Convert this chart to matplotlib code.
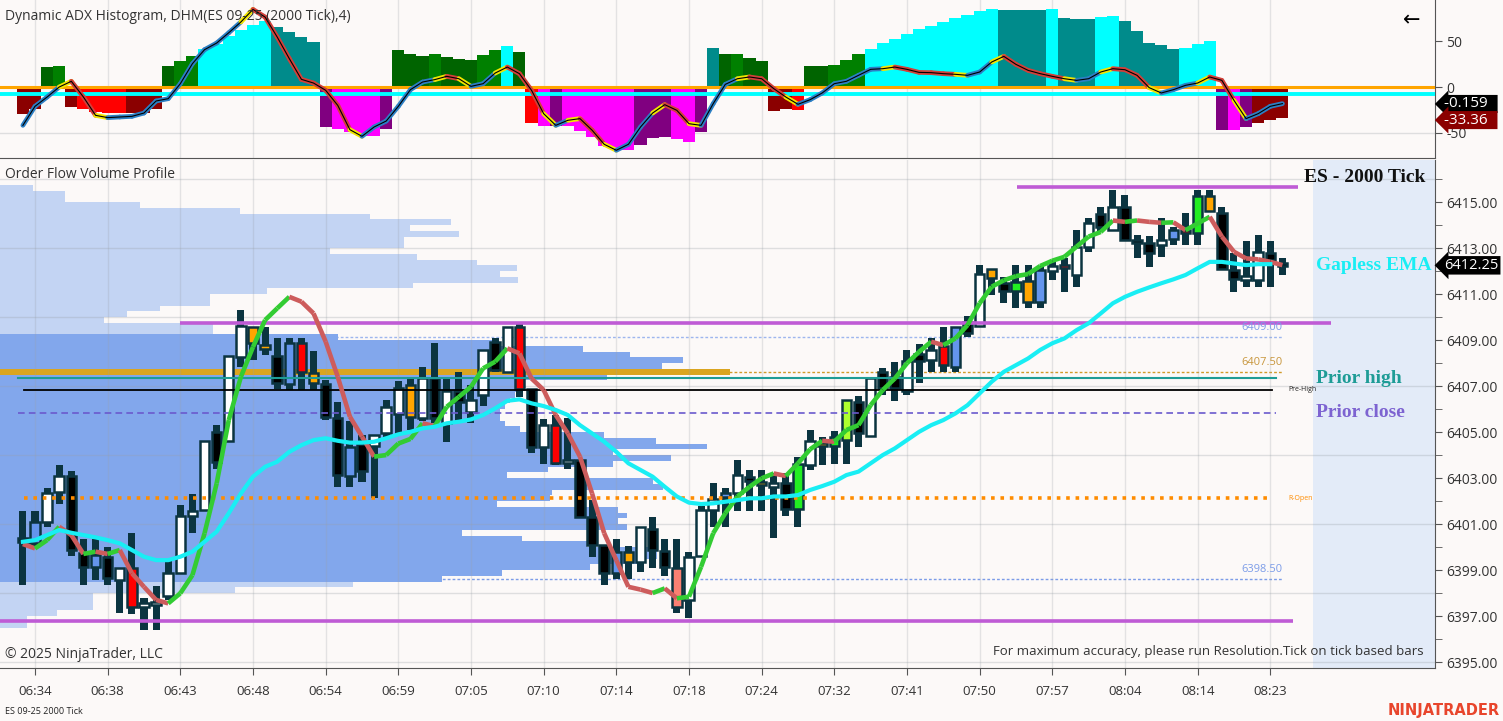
import matplotlib
matplotlib.use('Agg')
import matplotlib.pyplot as plt
import numpy as np
from matplotlib.patches import Rectangle
from matplotlib.collections import LineCollection

plt.rcParams['font.family'] = ['Open Sans', 'DejaVu Sans']

# ---------------- data ----------------
time_labels = ['06:34', '06:38', '06:43', '06:48', '06:54', '06:59', '07:05', '07:10', '07:14',
               '07:18', '07:24', '07:32', '07:41', '07:50', '07:57', '08:04', '08:14', '08:23']
label_bars = [1, 7, 13, 19, 25, 31, 37, 43, 49, 55, 61, 67, 73, 79, 85, 91, 97, 103]

opens = [6400.40, 6400.17, 6401.10, 6402.40, 6403.09, 6399.74, 6399.15, 6399.58, 6398.57, 6399.07,
         6397.38, 6397.50, 6397.87, 6398.86, 6401.35, 6401.60, 6405.00, 6404.60, 6408.27, 6409.58,
         6408.80, 6408.30, 6407.10, 6408.86, 6407.55, 6407.09, 6405.60, 6404.37, 6404.50, 6404.40,
         6404.94, 6405.80, 6407.04, 6405.60, 6407.33, 6405.40, 6406.80, 6405.88, 6406.60, 6408.90,
         6407.60, 6409.58, 6406.86, 6404.37, 6405.30, 6403.64, 6403.80, 6401.30, 6400.09, 6398.86,
         6399.80, 6399.36, 6400.80, 6399.84, 6399.07, 6397.70, 6399.60, 6401.60, 6402.16, 6402.33,
         6403.06, 6402.80, 6402.60, 6402.80, 6401.64, 6403.57, 6404.50, 6404.40, 6404.65, 6406.30,
         6404.83, 6407.60, 6407.40, 6406.80, 6408.40, 6408.13, 6408.74, 6407.84, 6409.80, 6409.60,
         6412.07, 6411.47, 6411.14, 6411.56, 6410.67, 6412.00, 6412.26, 6411.83, 6413.06, 6414.50,
         6413.80, 6414.80, 6413.35, 6413.20, 6413.13, 6413.39, 6413.78, 6413.64, 6415.26, 6414.53,
         6412.04, 6411.60, 6411.60, 6412.77, 6412.30]
highs = [6401.57, 6401.57, 6402.55, 6403.57, 6403.30, 6400.33, 6400.33, 6400.00, 6399.07, 6400.60,
         6397.80, 6398.30, 6399.50, 6401.83, 6402.30, 6404.60, 6405.30, 6408.30, 6410.30, 6409.58,
         6409.58, 6409.07, 6409.07, 6409.07, 6408.53, 6407.26, 6406.30, 6405.50, 6404.87, 6404.87,
         6406.40, 6407.20, 6407.33, 6407.84, 6408.86, 6407.33, 6407.60, 6407.04, 6408.57, 6409.07,
         6409.58, 6409.80, 6406.86, 6405.55, 6405.74, 6405.60, 6403.80, 6402.04, 6400.09, 6400.33,
         6400.04, 6400.88, 6401.30, 6400.33, 6400.33, 6399.80, 6401.78, 6402.80, 6402.55, 6403.80,
         6403.35, 6403.35, 6403.20, 6403.20, 6403.90, 6405.10, 6404.80, 6405.05, 6406.40, 6406.56,
         6407.33, 6407.80, 6408.05, 6408.57, 6408.83, 6409.07, 6409.58, 6409.58, 6410.06, 6412.26,
         6412.07, 6411.75, 6412.26, 6412.26, 6412.20, 6412.48, 6412.55, 6413.78, 6414.30, 6414.80,
         6415.52, 6415.30, 6413.57, 6413.52, 6414.29, 6413.93, 6414.53, 6415.52, 6415.52, 6414.80,
         6412.77, 6413.32, 6413.55, 6413.32, 6412.55]
lows = [6398.35, 6399.96, 6400.86, 6401.87, 6399.60, 6398.35, 6398.57, 6398.35, 6397.13, 6397.10,
        6396.40, 6396.40, 6397.70, 6398.86, 6400.60, 6401.60, 6403.40, 6404.60, 6407.84, 6408.13,
        6408.35, 6406.86, 6406.83, 6406.83, 6406.83, 6405.52, 6402.60, 6402.60, 6402.84, 6402.13,
        6404.80, 6404.90, 6405.10, 6405.50, 6405.38, 6404.58, 6405.38, 6405.40, 6406.13, 6407.60,
        6407.60, 6406.53, 6404.07, 6403.60, 6403.57, 6403.40, 6401.30, 6399.58, 6398.35, 6398.60,
        6398.60, 6398.93, 6399.07, 6398.74, 6397.12, 6396.90, 6399.60, 6400.86, 6400.88, 6401.57,
        6401.57, 6401.57, 6400.40, 6401.35, 6400.87, 6403.35, 6403.57, 6403.60, 6403.60, 6404.35,
        6404.83, 6406.60, 6406.35, 6406.60, 6407.12, 6407.62, 6407.62, 6407.62, 6409.14, 6409.60,
        6410.96, 6410.62, 6410.38, 6410.38, 6410.38, 6411.60, 6411.10, 6411.30, 6412.84, 6413.70,
        6413.80, 6413.35, 6412.55, 6412.19, 6412.60, 6413.13, 6413.13, 6413.13, 6414.58, 6412.10,
        6411.10, 6411.32, 6411.32, 6411.32, 6411.83]
closes = [6400.20, 6401.10, 6402.33, 6403.09, 6399.87, 6399.15, 6399.65, 6398.64, 6399.07, 6397.40,
          6397.58, 6397.60, 6398.88, 6401.35, 6401.57, 6404.60, 6403.70, 6408.30, 6409.60, 6408.88,
          6408.60, 6407.14, 6408.86, 6407.62, 6407.14, 6405.67, 6403.13, 6403.09, 6403.30, 6404.87,
          6406.10, 6406.90, 6405.67, 6407.33, 6405.60, 6406.80, 6406.30, 6406.40, 6408.57, 6407.70,
          6409.58, 6406.86, 6404.37, 6405.30, 6403.64, 6403.80, 6401.30, 6400.09, 6398.86, 6399.80,
          6399.36, 6400.88, 6399.87, 6399.14, 6397.40, 6399.58, 6401.60, 6402.07, 6402.37, 6403.13,
          6402.87, 6402.70, 6402.80, 6401.64, 6403.60, 6404.62, 6404.40, 6404.80, 6406.40, 6404.94,
          6407.33, 6406.90, 6406.90, 6408.10, 6408.10, 6408.57, 6407.90, 6409.58, 6409.30, 6411.87,
          6411.68, 6411.14, 6411.53, 6410.67, 6412.04, 6412.20, 6412.16, 6413.06, 6414.07, 6413.90,
          6414.80, 6413.35, 6413.23, 6412.80, 6413.35, 6413.78, 6413.64, 6415.26, 6414.62, 6412.10,
          6411.64, 6411.78, 6412.84, 6412.48, 6412.25]
# bar classification shown by the body fill
bar_kind = ['k', 'b', 'w', 'w', 'k', 'k', 'b', 'k', 'w', 'r',
            'w', 'w', 'w', 'w', 'w', 'w', 'k', 'w', 'w', 'o',
            'o', 'k', 'b', 'r', 'o', 'k', 'k', 'b', 'k', 'w',
            'w', 'w', 'o', 'w', 'k', 'w', 'k', 'w', 'w', 'k',
            'w', 'r', 'k', 'w', 'r', 'w', 'k', 'k', 'k', 'b',
            'o', 'w', 'k', 'k', 's', 'w', 'w', 'w', 'b', 'w',
            'k', 'o', 'w', 'k', 'g', 'w', 'o', 'g', 'y', 'k',
            'w', 'k', 'k', 'w', 'k', 'w', 'r', 'b', 'k', 'w',
            'o', 'k', 'g', 'o', 'b', 'w', 'r', 'w', 'w', 'k',
            'w', 'k', 'k', 'k', 'w', 'b', 'r', 'g', 'o', 'k',
            'k', 'w', 'w', 'k', 'k']

fast_ema = [6400.13, 6399.94, 6400.30, 6400.88, 6400.52, 6399.70, 6399.80, 6399.70, 6399.87, 6398.86,
            6398.27, 6397.70, 6397.55, 6397.99, 6398.78, 6400.60, 6402.77, 6405.52, 6407.40, 6408.70,
            6409.87, 6410.38, 6410.88, 6410.67, 6410.16, 6408.93, 6407.40, 6405.67, 6404.80, 6403.93,
            6404.00, 6404.50, 6404.70, 6405.38, 6405.26, 6406.10, 6406.53, 6406.97, 6407.77, 6408.06,
            6408.64, 6408.42, 6407.33, 6406.83, 6405.74, 6404.94, 6403.93, 6402.33, 6400.60, 6399.43,
            6398.27, 6398.15, 6398.00, 6398.20, 6397.77, 6397.84, 6399.14, 6400.60, 6401.47, 6402.20,
            6402.62, 6402.99, 6403.20, 6403.09, 6403.64, 6404.25, 6404.62, 6404.58, 6405.09, 6405.30,
            6406.17, 6406.83, 6407.33, 6407.99, 6408.49, 6408.93, 6408.78, 6409.07, 6409.65, 6410.60,
            6411.32, 6411.60, 6411.78, 6411.87, 6412.22, 6412.45, 6412.62, 6413.06, 6413.50, 6413.70,
            6414.20, 6414.14, 6414.20, 6414.14, 6414.10, 6414.12, 6413.78, 6414.07, 6414.36, 6413.50,
            6412.84, 6412.55, 6412.51, 6412.40, 6412.26]
gapless_ema = [6400.23, 6400.30, 6400.52, 6400.74, 6400.62, 6400.52, 6400.42, 6400.30, 6400.16, 6399.87,
               6399.58, 6399.43, 6399.43, 6399.58, 6399.80, 6400.23, 6400.67, 6401.47, 6402.33, 6403.06,
               6403.49, 6403.71, 6404.14, 6404.43, 6404.65, 6404.73, 6404.62, 6404.54, 6404.54, 6404.58,
               6404.73, 6404.90, 6405.01, 6405.16, 6405.23, 6405.38, 6405.45, 6405.55, 6405.74, 6406.03,
               6406.36, 6406.42, 6406.25, 6406.13, 6405.96, 6405.74, 6405.30, 6404.94, 6404.58, 6404.14,
               6403.64, 6403.35, 6403.06, 6402.62, 6402.20, 6401.93, 6401.87, 6401.90, 6401.97, 6402.04,
               6402.12, 6402.12, 6402.20, 6402.20, 6402.26, 6402.48, 6402.65, 6402.84, 6403.13, 6403.28,
               6403.64, 6404.00, 6404.29, 6404.65, 6405.01, 6405.30, 6405.52, 6405.81, 6406.17, 6406.68,
               6407.19, 6407.62, 6407.91, 6408.20, 6408.57, 6408.86, 6409.07, 6409.43, 6409.73, 6410.16,
               6410.60, 6410.88, 6411.10, 6411.29, 6411.47, 6411.64, 6411.83, 6412.12, 6412.40, 6412.40,
               6412.33, 6412.26, 6412.30, 6412.30]

adx_hist = [-28.9, -24.0, 21.7, 22.8, -21.7, -24.0, -27.5, -28.3, -28.3, -28.3,
            -28.0, -24.0, 22.8, 28.0, 33.4, 41.0, 47.0, 55.5, 61.6, 67.0,
            71.8, 65.0, 59.5, 54.0, 49.0, -43.5, -46.0, -49.0, -53.0, -53.0,
            -46.0, 40.0, 35.5, 33.7, 36.0, 32.6, 30.8, 29.0, 34.4, 40.6,
            44.6, 37.7, -39.0, -42.0, -42.0, -42.8, -47.8, -54.3, -64.0, -68.8,
            -68.8, -63.0, -55.8, -54.3, -56.5, -59.4, -48.9, 42.0, 36.0, 36.0,
            32.0, 28.3, -26.0, -24.0, -24.5, 22.8, 22.8, 24.0, 29.0, 35.5,
            41.0, 48.0, 52.6, 58.0, 62.7, 66.7, 70.7, 74.7, 78.0, 82.6,
            84.5, 84.0, 84.0, 84.0, 84.0, 84.7, 75.4, 74.3, 73.6, 76.0,
            77.0, 71.7, 60.5, 48.2, 45.3, 41.0, 42.4, 47.0, 49.7, -46.3,
            -46.3, -43.5, -38.7, -36.2, -33.36]
adx_state = ['dr', 'dr', 'dg', 'g', 'dr', 'r', 'r', 'r', 'r', 'dr',
             'dr', 'dr', 'dg', 'g', 'g', 'c', 'c', 'c', 'c', 'c',
             'c', 't', 't', 't', 't', 'p', 'm', 'm', 'm', 'm',
             'p', 'dg', 'dg', 'dg', 'g', 'dg', 'dg', 'dg', 'g', 'g',
             'c', 'dg', 'r', 'm', 'p', 'm', 'm', 'm', 'm', 'm',
             'm', 'p', 'p', 'p', 'm', 'm', 'p', 't', 'dg', 'g',
             'dg', 'dg', 'dr', 'dr', 'r', 'dg', 'dg', 'g', 'g', 'g',
             'c', 'c', 'c', 'c', 'c', 'c', 'c', 'c', 'c', 'c',
             'c', 't', 't', 't', 't', 'c', 't', 't', 't', 'c',
             'c', 't', 't', 't', 't', 't', 'c', 'c', 'c', 'p',
             'm', 'p', 'dr', 'dr', 'dr']
adx_line = [-41.7, -21.0, -10.9, 0.0, 6.2, -10.9, -30.8, -33.3, -32.6, -31.9,
            -28.3, -15.2, -12.7, 3.6, 25.4, 40.6, 47.8, 59.0, 70.7, 84.4,
            76.0, 54.3, 30.8, 8.3, 4.3, -3.6, -20.0, -46.4, -53.6, -43.5,
            -37.0, -21.0, -2.9, 5.4, 8.0, 11.6, 9.0, 0.7, 3.6, 15.2,
            21.7, 14.5, -3.6, -29.0, -41.7, -36.2, -34.4, -47.0, -62.3, -68.8,
            -62.3, -43.5, -28.3, -19.2, -25.4, -39.9, -41.7, -18.1, 2.9, 9.0,
            10.9, 9.0, -1.8, -10.9, -18.8, -13.8, -6.5, 3.6, 6.2, 12.7,
            19.2, 19.9, 21.7, 19.2, 15.9, 15.6, 14.5, 13.8, 12.7, 16.3,
            27.2, 33.3, 24.6, 18.1, 14.5, 11.6, 9.0, 7.2, 9.0, 16.3,
            19.9, 18.8, 12.7, -0.7, -6.5, -2.9, 1.8, 4.3, 10.9, 7.2,
            -14.5, -34.4, -29.0, -21.0, -18.1]
adx_level = -7.5
adx_tags = ['-0.159', '-33.36']

# volume profile: price of each 1-tick row and its volume
profile_price = [6415.50, 6415.25, 6415.00, 6414.75, 6414.50, 6414.25, 6414.00, 6413.75, 6413.50, 6413.25,
                 6413.00, 6412.75, 6412.50, 6412.25, 6412.00, 6411.75, 6411.50, 6411.25, 6411.00, 6410.75,
                 6410.50, 6410.25, 6410.00, 6409.75, 6409.50, 6409.25, 6409.00, 6408.75, 6408.50, 6408.25,
                 6408.00, 6407.75, 6407.50, 6407.25, 6407.00, 6406.75, 6406.50, 6406.25, 6406.00, 6405.75,
                 6405.50, 6405.25, 6405.00, 6404.75, 6404.50, 6404.25, 6404.00, 6403.75, 6403.50, 6403.25,
                 6403.00, 6402.75, 6402.50, 6402.25, 6402.00, 6401.75, 6401.50, 6401.25, 6401.00, 6400.75,
                 6400.50, 6400.25, 6400.00, 6399.75, 6399.50, 6399.25, 6399.00, 6398.75, 6398.50, 6398.25,
                 6398.00, 6397.75, 6397.50, 6397.25, 6397.00, 6396.75, 6396.50]
profile_vol = [33, 65, 65, 140, 240, 370, 451, 410, 459, 404,
               404, 330, 417, 477, 517, 500, 518, 413, 267, 210,
               210, 160, 127, 104, 213, 213, 338, 493, 583, 630,
               683, 662, 730, 607, 520, 520, 515, 510, 505, 500,
               500, 505, 520, 604, 656, 707, 613, 671, 613, 548,
               507, 653, 663, 552, 550, 497, 618, 627, 618, 627,
               462, 522, 587, 657, 657, 640, 590, 502, 442, 353,
               235, 93, 93, 93, 57, 27, 27]
poc_price = 6407.50
vah_price = 6409.00
val_price = 6398.50

swing_levels = [6409.75, 6415.65, 6396.80]
swing_spans = [(13.0, 108.0), (82.1, 105.3), (-1.9, 104.9)]
prior_high = 6407.35
pre_high = 6406.83
prior_close = 6405.83
r_open = 6402.13
last_price = 6412.25

# ---------------- figure ----------------
W, H = 1503, 721
bg = '#FCF9F8'
dark = '#0B3440'
txt = '#333333'


def fx(px):
    return px / W


def fy(py):
    return 1 - py / H


fig = plt.figure(figsize=(W / 100, H / 100), dpi=100)
fig.patch.set_facecolor(bg)
ax_top = fig.add_axes([0, fy(158), fx(1435), 158 / H])
ax = fig.add_axes([0, fy(668), fx(1435), (668 - 160) / H])
for a in (ax_top, ax):
    a.set_facecolor(bg)
    for s in ('top', 'left'):
        a.spines[s].set_visible(False)
    a.spines['right'].set_color('#555555')
    a.spines['bottom'].set_color('#555555')

n = len(opens)
idx = np.arange(n)
xlim = (-1.89, 116.6)

# ---------------- top panel: ADX histogram ----------------
state_colors = {'dg': '#006400', 'g': '#008000', 'c': '#00FFFF', 't': '#008B8B',
                'dr': '#8B0000', 'r': '#FF0000', 'm': '#FF00FF', 'p': '#800080'}
ax_top.bar(idx, adx_hist, width=1.0, color=[state_colors[s] for s in adx_state],
           linewidth=0, zorder=2)
ax_top.axhline(0, color='#FFA500', lw=2.2, zorder=3)
ax_top.axhline(adx_level, color='#00FFFF', lw=2.8, zorder=3)

line = np.array(adx_line)
pts = np.column_stack([idx, line])
segs = np.stack([pts[:-1], pts[1:]], axis=1)
d = np.diff(line)
seg_cols = []
for k in range(len(d)):
    nxt = d[k + 1] if k + 1 < len(d) else d[k]
    if np.sign(nxt) != np.sign(d[k]):
        seg_cols.append('#F2E600')
    elif d[k] > 0:
        seg_cols.append('#2C7FC4')
    else:
        seg_cols.append('#D2403A')
ax_top.add_collection(LineCollection(segs, colors=seg_cols, linewidths=3.4,
                                     capstyle='round', zorder=4))
ax_top.plot(idx, line, color='black', lw=0.8, zorder=5)

ax_top.set_xlim(*xlim)
ax_top.set_ylim(-77.2, 94.6)
for b in label_bars:
    ax_top.axvline(b, color='#9AA0A8', alpha=0.25, lw=1, zorder=1)
ax_top.axhline(-50, color='#9AA0A8', alpha=0.3, lw=1, zorder=1)
ax_top.yaxis.tick_right()
ax_top.set_yticks([-50, 0, 50])
ax_top.set_yticklabels(['-50', '0', '50'])
ax_top.tick_params(axis='y', direction='out', length=5, color='#555555',
                   labelsize=10, labelcolor=txt, pad=3)
ax_top.tick_params(axis='x', length=0, labelbottom=False)

tag_pos = [0.342, 0.24]
tag_cols = ['black', '#8B0000']
for t, yp, c in zip(adx_tags, tag_pos, tag_cols):
    ax_top.text(1.0065, yp, t + '  ', transform=ax_top.transAxes, ha='left', va='center',
                color='white', fontsize=11, clip_on=False, zorder=10,
                bbox=dict(boxstyle='larrow,pad=0.1', fc=c, ec='none'))

# ---------------- main panel ----------------
ax.set_xlim(*xlim)
ax.set_ylim(6394.74, 6416.83)

# volume profile (drawn in axes-fraction width)
light = '#C3D4F3'
medium = '#82A7EC'
gold = '#DAA520'
pv = np.array(profile_vol, dtype=float)
pw = pv / pv.max() * 0.509
pcols = []
for p in profile_price:
    if p == poc_price:
        pcols.append(gold)
    elif val_price <= p <= vah_price:
        pcols.append(medium)
    else:
        pcols.append(light)
ax.barh(profile_price, pw, height=0.25, left=0, align='edge', color=pcols, linewidth=0,
        transform=ax.get_yaxis_transform(), zorder=1)

# right margin shading
ax.axvspan(106.55, xlim[1], color='#E3EBF8', zorder=0.5, lw=0)

# grid
for b in label_bars:
    ax.axvline(b, color='#9AA0A8', alpha=0.25, lw=1, zorder=1.5)
for g in np.arange(6395, 6417, 3):
    ax.axhline(g, color='#9AA0A8', alpha=0.3, lw=1, zorder=1.5)

# value area / POC dotted lines with labels
x_end = 104.0
ax.plot([xlim[0], x_end], [vah_price + 0.125] * 2, color='#9DB6EE', lw=1, ls=(0, (2, 1.5)), zorder=0.9)
ax.plot([xlim[0], x_end], [val_price + 0.125] * 2, color='#7C9CE8', lw=1, ls=(0, (2, 1.5)), zorder=0.9)
ax.plot([xlim[0], x_end], [poc_price + 0.125] * 2, color='#D19A2A', lw=1, ls=(0, (2, 1.5)), zorder=0.9)
ax.text(x_end, vah_price + 0.3, f'{vah_price:.2f}', color='#7C9CE8', fontsize=8, ha='right', va='bottom', zorder=6)
ax.text(x_end, poc_price + 0.3, f'{poc_price:.2f}', color='#C8963C', fontsize=8, ha='right', va='bottom', zorder=6)
ax.text(x_end, val_price + 0.3, f'{val_price:.2f}', color='#7C9CE8', fontsize=8, ha='right', va='bottom', zorder=6)

# candles
kind_colors = {'w': 'white', 'k': 'black', 'b': '#6495ED', 'o': '#FFA500', 'r': '#FF0000',
               'g': '#22EE22', 'y': '#ADFF2F', 's': '#FA8072'}
for i in range(n):
    ax.add_patch(Rectangle((i - 0.29, lows[i]), 0.58, highs[i] - lows[i],
                           fc=dark, ec='none', zorder=3))
    lo, hi = min(opens[i], closes[i]), max(opens[i], closes[i])
    if hi - lo < 0.12:
        mid = (hi + lo) / 2
        lo, hi = mid - 0.06, mid + 0.06
    ax.add_patch(Rectangle((i - 0.39, lo), 0.78, hi - lo, fc=kind_colors[bar_kind[i]],
                           ec=dark, lw=1.8, zorder=3.5))

# horizontal levels
for lvl, (x0, x1) in zip(swing_levels, swing_spans):
    ax.plot([x0, x1], [lvl, lvl], color='#BF5BD5', lw=2.6, zorder=4, solid_capstyle='butt')
ax.plot([-0.4, 103.5], [prior_high] * 2, color='#1E9C96', lw=1.5, zorder=4)
ax.plot([0.1, 103.1], [pre_high] * 2, color='black', lw=1.3, zorder=4)
ax.plot([-0.4, 103.5], [prior_close] * 2, color='#6A5ACD', lw=1.2, ls=(0, (4, 2.5)), zorder=4)
ax.plot([0.1, 102.8], [r_open] * 2, color='#FF8C00', lw=2.6, ls=(0, (1, 1.6)), zorder=4)
ax.text(104.5, pre_high, 'Pre-High', fontsize=5, color='#222222', va='center', ha='left', zorder=6)
ax.text(104.5, r_open, 'R-Open', fontsize=5, color='#FF8C00', va='center', ha='left', zorder=6)

# moving averages
fe = np.array(fast_ema)
fpts = np.column_stack([idx, fe])
fsegs = np.stack([fpts[:-1], fpts[1:]], axis=1)
fcols = ['#33CC33' if v > 0 else '#CD5C5C' for v in np.diff(fe)]
ax.add_collection(LineCollection(fsegs, colors=fcols, linewidths=3.3, capstyle='butt', zorder=5))
ax.plot(np.arange(len(gapless_ema)), gapless_ema, color='#19EEF4', lw=3.0, zorder=5)

# axis ticks
ax.yaxis.tick_right()
ax.set_yticks(np.arange(6395, 6416, 2))
ax.set_yticklabels([f'{v:.2f}' for v in np.arange(6395, 6416, 2)])
ax.set_yticks(np.arange(6396, 6417, 2), minor=True)
ax.tick_params(axis='y', which='both', direction='out', length=5, color='#555555',
               labelsize=10, labelcolor=txt, pad=3)
ax.set_xticks(label_bars)
ax.set_xticklabels(time_labels)
ax.tick_params(axis='x', direction='out', length=5, color='#555555', labelsize=9.5,
               labelcolor=txt, pad=7)

# last price tag
ax.text(1.0065, last_price, f'{last_price:.2f}', transform=ax.get_yaxis_transform(),
        ha='left', va='center', color='white', fontsize=10.5, clip_on=False, zorder=10,
        bbox=dict(boxstyle='larrow,pad=0.12', fc='black', ec='none'))

# labels on the chart
serif = ['Liberation Serif', 'DejaVu Serif']
ax.text(0.917, last_price, 'Gapless EMA', transform=ax.get_yaxis_transform(), color='#19EEF4',
        fontsize=14, fontweight='bold', family=serif, va='center', ha='left', zorder=6)
ax.text(0.917, prior_high, 'Prior high', transform=ax.get_yaxis_transform(), color='#1E9C96',
        fontsize=14, fontweight='bold', family=serif, va='center', ha='left', zorder=6)
ax.text(0.917, prior_close, 'Prior close', transform=ax.get_yaxis_transform(), color='#7D63D1',
        fontsize=14, fontweight='bold', family=serif, va='center', ha='left', zorder=6)
fig.text(fx(1425), fy(178), 'ES - 2000 Tick', color='#111111', fontsize=14, fontweight='bold',
         family=serif, ha='right', va='center')

fig.text(fx(5), fy(16), 'Dynamic ADX Histogram, DHM(ES 09-25 (2000 Tick),4)', fontsize=10,
         color=txt, ha='left', va='center')
fig.text(fx(1412), fy(20), '\u2190', fontsize=15, color='black', ha='center', va='center',
         family=['DejaVu Sans'])
fig.text(fx(5), fy(175), 'Order Flow Volume Profile', fontsize=10, color=txt, ha='left', va='center')
fig.text(fx(5), fy(654), '\u00a9 2025 NinjaTrader, LLC', fontsize=10, color=txt, ha='left', va='center')
fig.text(fx(1424), fy(651), 'For maximum accuracy, please run Resolution.Tick on tick based bars',
         fontsize=9.5, color=txt, ha='right', va='center')
fig.text(fx(5), fy(711), 'ES 09-25 2000 Tick', fontsize=6.5, color='#222222', ha='left', va='center')
fig.text(fx(1500), fy(711), 'NINJATRADER', fontsize=10.5, fontweight='bold', color='#E8452C',
         ha='right', va='center', family=['DejaVu Sans'])

fig.savefig('out.png', dpi=100, facecolor=bg)
